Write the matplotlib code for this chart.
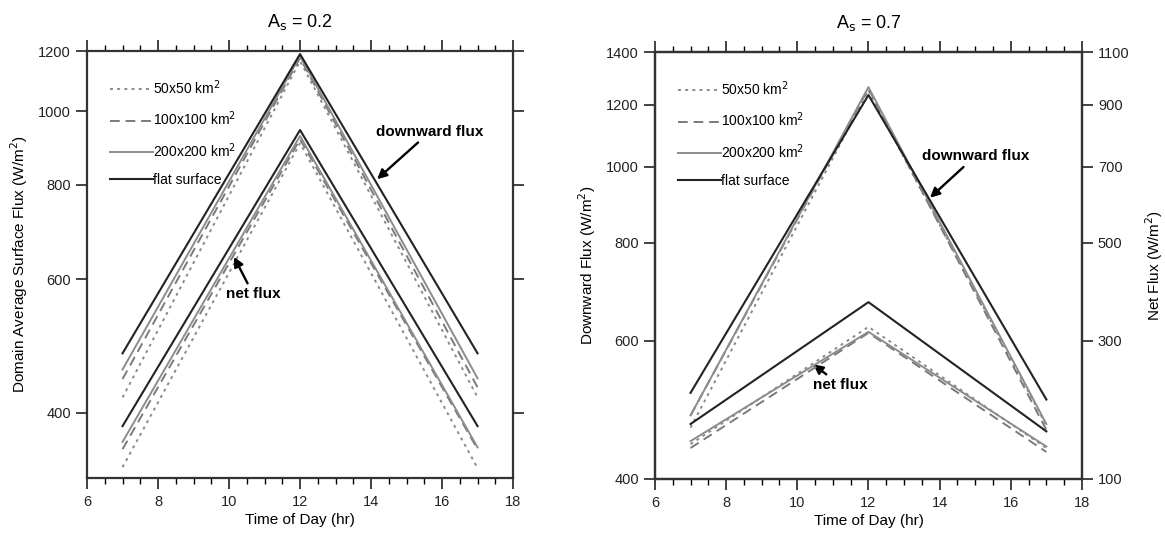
import matplotlib.pyplot as plt
import numpy as np

plt.rcParams['font.family'] = ['Liberation Sans', 'DejaVu Sans']

hours = [7, 12, 17]
labels = [r'50x50 km$^2$', r'100x100 km$^2$', r'200x200 km$^2$', 'flat surface']

# A_s = 0.2 (single log axis)
down_02 = {
    '50': [419, 1164, 419],
    '100': [443, 1175, 432],
    '200': [456, 1182, 444],
    'flat': [479, 1189, 479],
}
net_02 = {
    '50': [339, 907, 338],
    '100': [358, 918, 358],
    '200': [366, 927, 360],
    'flat': [384, 944, 384],
}

# A_s = 0.7 (downward on left axis, net on right axis)
down_07 = {
    '50': [465, 1250, 468],
    '100': [482, 1257, 462],
    '200': [482, 1263, 470],
    'flat': [515, 1234, 505],
}
net_07 = {
    '50': [143, 325, 138],
    '100': [138, 314, 133],
    '200': [147, 316, 140],
    'flat': [170, 372, 160],
}

yt_02 = [400, 600, 800, 1000, 1200]
yt_07 = [400, 600, 800, 1000, 1200, 1400]
yt_net = [100, 300, 500, 700, 900, 1100]

styles = {
    '50': dict(color='#8a8a8a', ls=(0, (1.5, 2.2)), lw=1.4),
    '100': dict(color='#7a7a7a', ls=(0, (5, 3)), lw=1.4),
    '200': dict(color='#8c8c8c', ls='-', lw=1.4),
    'flat': dict(color='#222222', ls='-', lw=1.5),
}
keys = ['50', '100', '200', 'flat']
spine_c = '#333333'
arrow = dict(arrowstyle='-|>', color='black', lw=1.7, shrinkA=1, shrinkB=0, mutation_scale=14)


def style_axis(ax):
    ax.set_xlim(6, 18)
    ax.set_xticks(np.arange(6, 19, 2))
    ax.set_xticks(np.arange(6, 18.01, 0.5), minor=True)
    ax.tick_params(axis='x', which='major', direction='out', length=8, width=1.2,
                   top=True, labelsize=10.5, colors='#222222', pad=4)
    ax.tick_params(axis='x', which='minor', direction='out', length=4, width=1.0, top=True)
    for s in ax.spines.values():
        s.set_linewidth(1.6)
        s.set_color(spine_c)
    ax.set_xlabel('Time of Day (hr)', fontsize=11, labelpad=3)


def add_legend(ax):
    ax.legend(loc='upper left', bbox_to_anchor=(0.025, 0.965), frameon=False, fontsize=10,
              handlelength=3.1, handletextpad=0.0, labelspacing=0.92)


fig = plt.figure(figsize=(11.65, 5.4), dpi=100)
ax1 = fig.add_axes([0.0747, 0.1148, 0.3657, 0.7907])
ax2 = fig.add_axes([0.5622, 0.1130, 0.3665, 0.7907])

# left panel
for k, lab in zip(keys, labels):
    ax1.plot(hours, down_02[k], label=lab, **styles[k])
    ax1.plot(hours, net_02[k], **styles[k])
ax1.set_yscale('log')
ax1.set_ylim(328, 1200)
ax1.set_yticks(yt_02)
ax1.set_yticklabels([str(v) for v in yt_02])
ax1.yaxis.set_minor_locator(plt.NullLocator())
ax1.tick_params(axis='y', which='major', direction='out', length=8, width=1.2,
                right=True, labelsize=10.5, colors='#222222')
style_axis(ax1)
ax1.set_ylabel(r'Domain Average Surface Flux (W/m$^2$)', fontsize=11, labelpad=6)
ax1.set_title(r'A$_\mathrm{s}$ = 0.2', fontsize=13, pad=17)
add_legend(ax1)

ax1.annotate('downward flux', xy=(14.17, 813), xytext=(15.66, 939), fontsize=11,
             fontweight='bold', ha='center', va='center', arrowprops=arrow)
ax1.annotate('net flux', xy=(10.14, 642), xytext=(10.68, 573), fontsize=11,
             fontweight='bold', ha='center', va='center', arrowprops=arrow)

# right panel
for k, lab in zip(keys, labels):
    ax2.plot(hours, down_07[k], label=lab, **styles[k])
ax2.set_yscale('log')
ax2.set_ylim(400, 1400)
ax2.set_yticks(yt_07)
ax2.set_yticklabels([str(v) for v in yt_07])
ax2.yaxis.set_minor_locator(plt.NullLocator())
ax2.tick_params(axis='y', which='major', direction='out', length=8, width=1.2,
                labelsize=10.5, colors='#222222')
style_axis(ax2)
ax2.set_ylabel(r'Downward Flux (W/m$^2$)', fontsize=11, labelpad=6)
ax2.set_title(r'A$_\mathrm{s}$ = 0.7', fontsize=13, pad=17)
add_legend(ax2)

ax3 = ax2.twinx()
ax3.set_yscale('function', functions=(lambda v: np.log10(np.maximum(v + 300, 1e-6)),
                                      lambda v: 10 ** v - 300))
for k in keys:
    ax3.plot(hours, net_07[k], **styles[k])
ax3.set_ylim(100, 1100)
ax3.set_yticks(yt_net)
ax3.set_yticklabels([str(v) for v in yt_net])
ax3.yaxis.set_minor_locator(plt.NullLocator())
ax3.tick_params(axis='y', which='major', direction='out', length=8, width=1.2,
                labelsize=10.5, colors='#222222')
for s in ax3.spines.values():
    s.set_linewidth(1.6)
    s.set_color(spine_c)
ax3.set_ylabel(r'Net Flux (W/m$^2$)', fontsize=11, labelpad=10)

ax2.annotate('downward flux', xy=(13.73, 913), xytext=(15.0, 1031), fontsize=11,
             fontweight='bold', ha='center', va='center', arrowprops=arrow)
ax2.annotate('net flux', xy=(10.45, 560), xytext=(11.2, 527), fontsize=11,
             fontweight='bold', ha='center', va='center', arrowprops=arrow)

fig.savefig('out.png', dpi=100)
